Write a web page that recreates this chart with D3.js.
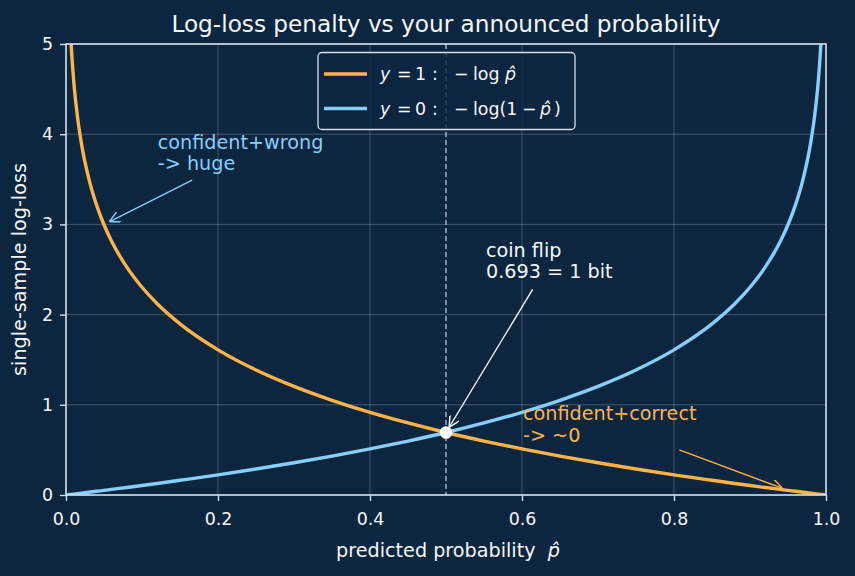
<!DOCTYPE html>
<html><head><meta charset="utf-8">
<script src="https://cdn.jsdelivr.net/npm/d3@7"></script>
<style>
html,body{margin:0;padding:0;background:#0c2640;}
text{font-family:"DejaVu Sans",sans-serif;}
</style></head>
<body><svg id="c" width="855" height="576"></svg>
<script>
// Data
const pHat = [0.001,0.005,0.0067,0.01,0.015,0.02,0.03,0.04,0.05,0.06,0.08,0.1,0.12,0.15,0.2,0.25,0.3,0.35,0.4,0.45,0.5,0.55,0.6,0.65,0.7,0.75,0.8,0.85,0.88,0.9,0.92,0.94,0.95,0.96,0.97,0.98,0.985,0.99,0.9933,0.995,0.999];
const lossY1 = [6.908,5.298,5.006,4.605,4.200,3.912,3.507,3.219,2.996,2.813,2.526,2.303,2.120,1.897,1.609,1.386,1.204,1.050,0.916,0.799,0.693,0.598,0.511,0.431,0.357,0.288,0.223,0.163,0.128,0.105,0.083,0.062,0.051,0.041,0.030,0.020,0.015,0.010,0.0067,0.005,0.001];
const lossY0 = [0.001,0.005,0.0067,0.010,0.015,0.020,0.030,0.041,0.051,0.062,0.083,0.105,0.128,0.163,0.223,0.288,0.357,0.431,0.511,0.598,0.693,0.799,0.916,1.050,1.204,1.386,1.609,1.897,2.120,2.303,2.526,2.813,2.996,3.219,3.507,3.912,4.200,4.605,5.006,5.298,6.908];
const xTicks = [0,0.2,0.4,0.6,0.8,1.0];
const xTickLabels = ["0.0","0.2","0.4","0.6","0.8","1.0"];
const yTicks = [0,1,2,3,4,5];
const coinFlip = {p:0.5, loss:0.693};
const annWrong = {p:0.05, loss:3.0, tx:0.1208, ty:3.84, sx:0.166, sy:3.49, lines:["confident+wrong","-> huge"]};
const annFlip = {p:0.5, loss:0.693, tx:0.5526, ty:2.64, sx:0.614, sy:2.28, lines:["coin flip","0.693 = 1 bit"]};
const annRight = {p:0.95, loss:0.051, tx:0.6013, ty:0.83, sx:0.807, sy:0.50, lines:["confident+correct","-> ~0"]};

const BG="#0c2640", ORANGE="#ffb347", BLUE="#87cefa", FG="#f4f7fa", SPINE="#d3dfeb";
const svg=d3.select("#c");
svg.append("rect").attr("width",855).attr("height",576).attr("fill",BG);
const m={l:66,r:826,t:44,b:495};
const x=d3.scaleLinear().domain([0,1]).range([m.l,m.r]);
const y=d3.scaleLinear().domain([0,5]).range([m.b,m.t]);

svg.append("defs").append("clipPath").attr("id","clip").append("rect")
  .attr("x",m.l).attr("y",m.t).attr("width",m.r-m.l).attr("height",m.b-m.t);

// grid
const g=svg.append("g");
g.selectAll(".gx").data(xTicks).enter().append("line")
 .attr("x1",d=>x(d)).attr("x2",d=>x(d)).attr("y1",m.t).attr("y2",m.b)
 .attr("stroke","#ffffff").attr("stroke-opacity",0.25).attr("stroke-width",0.9);
g.selectAll(".gy").data(yTicks).enter().append("line")
 .attr("y1",d=>y(d)).attr("y2",d=>y(d)).attr("x1",m.l).attr("x2",m.r)
 .attr("stroke","#ffffff").attr("stroke-opacity",0.25).attr("stroke-width",0.9);

// dashed vertical at 0.5
svg.append("line").attr("x1",x(0.5)).attr("x2",x(0.5)).attr("y1",m.t).attr("y2",m.b)
 .attr("stroke","#b8c8d8").attr("stroke-width",1.3).attr("stroke-dasharray","5,3");

// curves
const line=(arr)=>d3.line().x((d,i)=>x(pHat[i])).y((d,i)=>y(arr[i])).curve(d3.curveMonotoneX)(arr);
const cg=svg.append("g").attr("clip-path","url(#clip)");
cg.append("path").attr("d",line(lossY1)).attr("fill","none").attr("stroke",ORANGE).attr("stroke-width",3.4);
cg.append("path").attr("d",line(lossY0)).attr("fill","none").attr("stroke",BLUE).attr("stroke-width",3.4);

// axes
const xa=svg.append("g").attr("transform",`translate(0,${m.b})`)
 .call(d3.axisBottom(x).tickValues(xTicks).tickFormat((d,i)=>xTickLabels[i]).tickSize(6).tickPadding(11.5));
const ya=svg.append("g").attr("transform",`translate(${m.l},0)`)
 .call(d3.axisLeft(y).tickValues(yTicks).tickFormat(d3.format("d")).tickSize(6).tickPadding(7));
[xa,ya].forEach(a=>{a.select(".domain").remove();
 a.selectAll("line").attr("stroke",SPINE).attr("stroke-width",1.4);
 a.selectAll("text").attr("fill",FG).attr("font-size",17.4).attr("font-family","DejaVu Sans");});
// spines
svg.append("rect").attr("x",m.l).attr("y",m.t).attr("width",m.r-m.l).attr("height",m.b-m.t)
 .attr("fill","none").attr("stroke",SPINE).attr("stroke-width",1.6);

// title + labels
svg.append("text").attr("x",(m.l+m.r)/2).attr("y",32).attr("text-anchor","middle")
 .attr("fill",FG).attr("font-size",23.2).text("Log-loss penalty vs your announced probability");
const xl=svg.append("text").attr("x",(m.l+m.r)/2+2).attr("y",557).attr("text-anchor","middle").attr("fill",FG).attr("font-size",19.2)
 .attr("xml:space","preserve").style("white-space","pre");
xl.append("tspan").text("predicted probability  ");
xl.append("tspan").attr("font-style","italic").text("p\u0302");
svg.append("text").attr("transform",`translate(26,${(m.t+m.b)/2}) rotate(-90)`).attr("text-anchor","middle")
 .attr("fill",FG).attr("font-size",19.2).text("single-sample log-loss");

// annotations
svg.append("defs").selectAll("marker").data([["aB",BLUE],["aW","#ffffff"],["aO",ORANGE]]).enter()
 .append("marker").attr("id",d=>d[0]).attr("viewBox","0 0 10 10").attr("refX",9).attr("refY",5)
 .attr("markerWidth",11).attr("markerHeight",11).attr("orient","auto-start-reverse").attr("markerUnits","userSpaceOnUse")
 .append("path").attr("d","M0,0 L10,5 L0,10").attr("fill","none").attr("stroke",d=>d[1]).attr("stroke-width",1.3);

function ann(a,color,mk){
  const t=svg.append("text").attr("x",x(a.tx)).attr("y",y(a.ty)).attr("fill",color).attr("font-size",19.2);
  a.lines.forEach((l,i)=>t.append("tspan").attr("x",x(a.tx)).attr("dy",i?21.5:0).text(l));
  const x2=x(a.p), y2=y(a.loss), x1=x(a.sx), y1=y(a.sy);
  const dx=x2-x1, dy=y2-y1, L=Math.hypot(dx,dy), sh=7;
  svg.append("line").attr("x1",x1).attr("y1",y1).attr("x2",x2-dx/L*sh).attr("y2",y2-dy/L*sh)
   .attr("stroke",color).attr("stroke-width",1.4).attr("marker-end",`url(#${mk})`);
}
ann(annWrong,BLUE,"aB");
ann(annFlip,FG,"aW");
ann(annRight,ORANGE,"aO");

svg.append("circle").attr("cx",x(coinFlip.p)).attr("cy",y(coinFlip.loss)).attr("r",6.3).attr("fill","#ffffff");

// legend
const lg=svg.append("g");
lg.append("rect").attr("x",318).attr("y",52.5).attr("width",257).attr("height",77).attr("rx",4)
 .attr("fill",BG).attr("fill-opacity",0.8).attr("stroke",SPINE).attr("stroke-width",1.3);
const items=[{c:ORANGE,k:"1",toks:[["\u2212",454,""],["log",473,""],["p\u0302",505,"italic"]]},
             {c:BLUE,k:"0",toks:[["\u2212",454,""],["log(1",473,""],["\u2212",522,""],["p\u0302",540,"italic"],[")",554,""]]}];
items.forEach((it,i)=>{
  const yy=74+i*34.5;
  lg.append("line").attr("x1",324).attr("x2",367).attr("y1",yy).attr("y2",yy).attr("stroke",it.c).attr("stroke-width",3.4);
  const base=[["y",380,"italic"],["=",397,""],[it.k,415,""],[":",432,""]].concat(it.toks);
  base.forEach(tk=>lg.append("text").attr("x",tk[1]).attr("y",yy+6).attr("fill",FG).attr("font-size",17.4)
    .attr("font-style",tk[2]||null).text(tk[0]));
});
</script></body></html>
